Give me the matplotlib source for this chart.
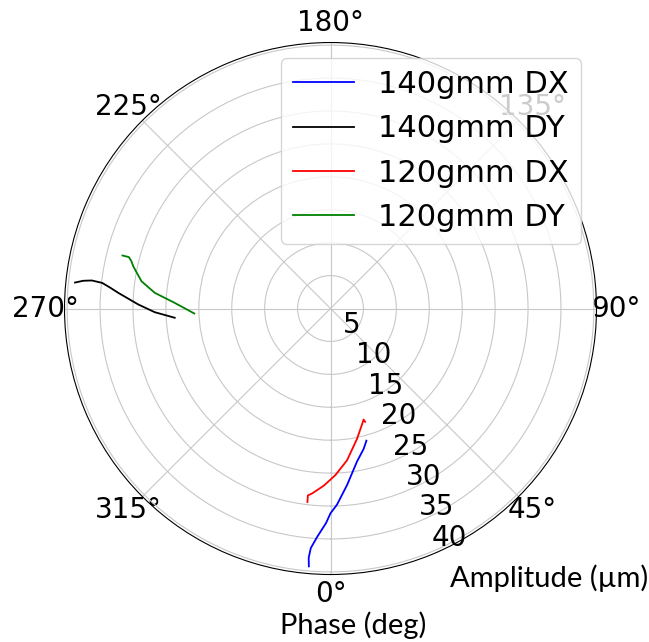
import numpy as np
import matplotlib
matplotlib.use("Agg")
import matplotlib.pyplot as plt

# Data (phase in degrees, amplitude in um)
dx140_phase = [355.2, 355.0, 355.3, 356.7, 358.8, 0.0, 1.9, 5.4, 9.8, 13.3, 15.2]
dx140_amp = [39.3, 38.0, 36.5, 34.7, 32.6, 31.1, 29.8, 26.9, 23.6, 21.9, 20.8]

dy140_phase = [264.2, 263.6, 263.3, 263.6, 264.6, 265.8, 268.8, 271.2, 273.4]
dy140_amp = [39.0, 37.8, 36.5, 34.9, 33.6, 32.3, 29.2, 26.7, 23.7]

dx120_phase = [353.2, 353.1, 354.4, 357.9, 1.7, 6.2, 11.5, 15.3, 16.6, 17.0]
dx120_amp = [29.6, 28.6, 28.2, 26.9, 25.3, 23.2, 20.2, 18.2, 17.6, 18.0]

dy120_phase = [255.7, 255.7, 256.6, 258.0, 261.8, 264.9, 267.9, 272.1]
dy120_amp = [32.6, 31.6, 31.1, 30.6, 29.0, 26.8, 23.7, 20.7]

series = [
    ("140gmm DX", dx140_phase, dx140_amp, "b"),
    ("140gmm DY", dy140_phase, dy140_amp, "k"),
    ("120gmm DX", dx120_phase, dx120_amp, "r"),
    ("120gmm DY", dy120_phase, dy120_amp, "g"),
]

fig = plt.figure(figsize=(6.49, 6.42), dpi=100)
ax = fig.add_axes([0.0994, 0.1051, 0.8197, 0.8287], projection="polar")
ax.set_theta_zero_location("S")
ax.set_theta_direction(1)

for name, ph, amp, col in series:
    ax.plot(np.deg2rad(ph), amp, color=col, lw=1.3, label=name)

ax.set_rlim(0, 40.4)
ax.set_rticks([5, 10, 15, 20, 25, 30, 35, 40])
ax.set_thetagrids(np.arange(0, 360, 45),
                  ["0°", "45°", "90°", "135°", "180°", "225°", "270°", "315°"])
ax.tick_params(labelsize=20)
ax.grid(True, color="#c8c8c8", lw=0.8)

ax.legend(loc="upper right", fontsize=22, handlelength=2.0)

# axis captions (added outside the polar axes)
fig.text(0.846, 0.0857, "Amplitude (µm)", family="Lato", fontsize=21,
         ha="center", va="baseline")
fig.text(0.544, 0.013, "Phase (deg)", family="Lato", fontsize=21,
         ha="center", va="baseline")

fig.savefig("out.png", dpi=100)
